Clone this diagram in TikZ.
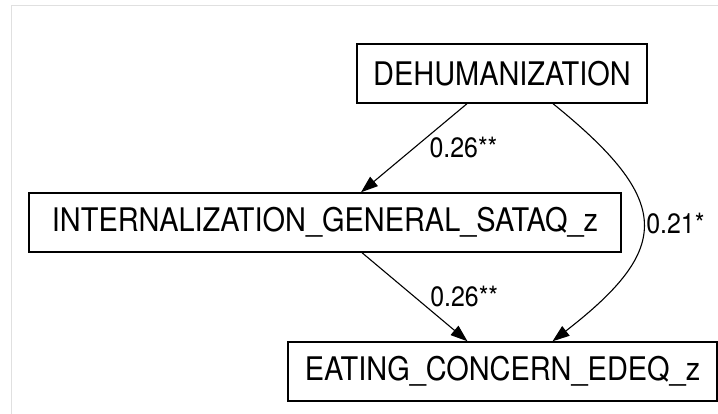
\documentclass[tikz,border=0pt]{standalone}
\usepackage{fontspec}
\setmainfont{TeX Gyre Heros}
\newfontfamily\diagfont[FakeStretch=0.89]{TeX Gyre Heros}
\usetikzlibrary{arrows.meta}

\begin{document}
\begin{tikzpicture}[x=1pt, y=-1pt, >={Triangle[length=17pt,width=12pt]},
    % Estilos
    varbox/.style={
        draw=black, line width=1.4pt, minimum height=59pt,
        inner xsep=0pt, font=\diagfont\fontsize{32.5}{36}\selectfont
    },
    pathlbl/.style={
        font=\diagfont\fontsize{28}{32}\selectfont, inner sep=3pt
    },
    effect/.style={->, line width=1.1pt}
]

% marco
\useasboundingbox (0,0) rectangle (718,414);
\draw[black!12, line width=1pt] (11,414) -- (11,6) -- (718,6);

% =============================================
% VARIABLES
% =============================================
\node[varbox, minimum width=290pt] (dehum) at (502,73.5) {DEHUMANIZATION};
\node[varbox, minimum width=592pt] (intern) at (325,222.5) {INTERNALIZATION\_GENERAL\_SATAQ\_z};
\node[varbox, minimum width=429pt] (eating) at (502.5,371.5) {EATING\_CONCERN\_EDEQ\_z};

% =============================================
% EFECTOS
% =============================================
\draw[effect] ([xshift=-35pt]dehum.south) -- ([xshift=36pt]intern.north)
    node[pathlbl, midway, right=12pt] {0.26**};

\draw[effect] ([xshift=37pt]intern.south) -- ([xshift=-35pt]eating.north)
    node[pathlbl, midway, right=12pt] {0.26**};

\draw[effect] ([xshift=51pt]dehum.south) .. controls +(120,97) and +(120,-93) .. ([xshift=50pt]eating.north)
    node[pathlbl, pos=0.5, right=0pt] {0.21*};

\end{tikzpicture}
\end{document}
